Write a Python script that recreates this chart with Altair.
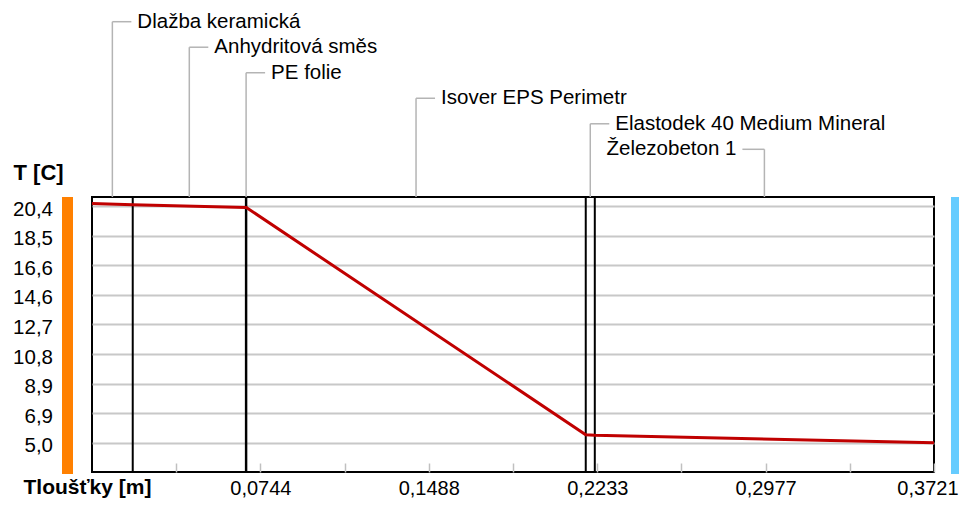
import json
import altair as alt
import pandas as pd

# ---- data ----
layer_names = ["Dlažba keramická", "Anhydritová směs", "PE folie",
               "Isover EPS Perimetr", "Elastodek 40 Medium Mineral", "Železobeton 1"]
layer_thickness = [0.018, 0.050, 0.0002, 0.150, 0.004, 0.1499]   # m
interface_temps = [20.58, 20.50, 20.32, 20.32, 5.52, 5.48, 5.00]  # °C at each interface
label_rows = [0, 1, 2, 3, 4, 5]
label_side = ["right", "right", "right", "right", "right", "left"]

y_tick_values = [5.0, 6.925, 8.85, 10.775, 12.7, 14.625, 16.55, 18.475, 20.4]
y_tick_labels = ["5,0", "6,9", "8,9", "10,8", "12,7", "14,6", "16,6", "18,5", "20,4"]
x_tick_values = [0.0372, 0.0744, 0.1116, 0.1488, 0.1861, 0.2233, 0.2605, 0.2977, 0.3349, 0.3721]
x_tick_labels = ["", "0,0744", "", "0,1488", "", "0,2233", "", "0,2977", "", "0,3721"]

# ---- derived tables ----
bounds = [0.0]
for t in layer_thickness:
    bounds.append(round(bounds[-1] + t, 6))
total = bounds[-1]

profile = pd.DataFrame({"x": bounds, "T": interface_temps})
interfaces = pd.DataFrame({"x": bounds[1:-1]})
layers = pd.DataFrame({
    "name": layer_names,
    "mid": [(bounds[i] + bounds[i + 1]) / 2 for i in range(len(layer_names))],
    "row": label_rows,
    "side": label_side,
})

W, H = 842, 275
FONT = "Liberation Sans"
xscale = alt.Scale(domain=[0, total], nice=False, zero=False)
yscale = alt.Scale(domain=[3.091, 21.006], nice=False, zero=False)
rowscale = alt.Scale(domain=[0, 5], range=[-175.3, -47.7])

x_label_expr = f"{json.dumps(x_tick_labels, ensure_ascii=False)}[indexof({json.dumps(x_tick_values)}, datum.value)]"
y_label_expr = f"{json.dumps(y_tick_labels, ensure_ascii=False)}[indexof({json.dumps(y_tick_values)}, datum.value)]"

x_axis = alt.Axis(
    values=x_tick_values, labelExpr=x_label_expr, grid=False, domain=False,
    offset=-9, tickSize=9, tickColor="#C0C0C0", tickWidth=1.5,
    labelPadding=6, labelFontSize=20, labelColor="#000", labelFont=FONT,
    labelFlush=True, labelFlushOffset=24, labelOverlap=False,
    title="Tloušťky [m]", titleFont=FONT, titleFontSize=21, titleFontWeight="bold",
    titleColor="#000", titleX=-69, titleY=24, titleAlign="left", titleBaseline="middle",
)
y_axis = alt.Axis(
    values=y_tick_values, labelExpr=y_label_expr, grid=True, gridColor="#C8C8C8",
    gridWidth=2, domain=False, ticks=False, tickSize=0,
    labelPadding=39.5, labelOffset=3, labelFontSize=20.5, labelColor="#000",
    labelFont=FONT, labelFlush=False, labelOverlap=False,
    title="T [C]", titleFont=FONT, titleFontSize=22, titleFontWeight="bold",
    titleColor="#000", titleAngle=0, titleX=-79, titleY=-25, titleAlign="left",
    titleBaseline="middle",
)

def X(field):
    return alt.X(field, scale=xscale, axis=x_axis)

line = alt.Chart(profile).mark_line(color="#C00000", strokeWidth=3).encode(
    x=X("x:Q"),
    y=alt.Y("T:Q", scale=yscale, axis=y_axis),
)

rules = alt.Chart(interfaces).mark_rule(color="#000", strokeWidth=2).encode(
    x=X("x:Q"),
)

one = pd.DataFrame({"k": [0]})
orange = alt.Chart(one).mark_rect(color="#FF8000").encode(
    x=alt.value(-30), x2=alt.value(-19), y=alt.value(0), y2=alt.value(H + 2))
blue = alt.Chart(one).mark_rect(color="#66CCFF").encode(
    x=alt.value(W + 17), x2=alt.value(W + 25), y=alt.value(0), y2=alt.value(H + 2))

LEAD = "#B4B4B4"
vert = alt.Chart(layers).mark_rule(color=LEAD, strokeWidth=1.5).encode(
    x=X("mid:Q"),
    y=alt.Y("row:Q", scale=rowscale, axis=None),
    y2=alt.value(0),
)
hor_r = alt.Chart(layers).transform_filter("datum.side == 'right'").mark_rule(
    color=LEAD, strokeWidth=1.5, x2Offset=19).encode(
    x=X("mid:Q"), x2="mid:Q",
    y=alt.Y("row:Q", scale=rowscale, axis=None),
)
hor_l = alt.Chart(layers).transform_filter("datum.side == 'left'").mark_rule(
    color=LEAD, strokeWidth=1.5, x2Offset=-22).encode(
    x=X("mid:Q"), x2="mid:Q",
    y=alt.Y("row:Q", scale=rowscale, axis=None),
)
txt_r = alt.Chart(layers).transform_filter("datum.side == 'right'").mark_text(
    align="left", baseline="middle", dx=25, font=FONT, fontSize=20.5, color="#000").encode(
    x=X("mid:Q"),
    y=alt.Y("row:Q", scale=rowscale, axis=None),
    text="name:N",
)
txt_l = alt.Chart(layers).transform_filter("datum.side == 'left'").mark_text(
    align="right", baseline="middle", dx=-28, font=FONT, fontSize=20.5, color="#000").encode(
    x=X("mid:Q"),
    y=alt.Y("row:Q", scale=rowscale, axis=None),
    text="name:N",
)

chart = alt.layer(
    orange, blue, rules, line, vert, hor_r, hor_l, txt_r, txt_l
).resolve_scale(y="independent").properties(
    width=W, height=H,
    padding={"left": 84, "top": 189, "right": 25, "bottom": 26},
    autosize=alt.AutoSizeParams(type="none"),
    background="#FFFFFF",
).configure(font=FONT).configure_view(stroke="#000", strokeWidth=2)

chart.save("out.html", embed_options={"renderer": "svg", "actions": False})
